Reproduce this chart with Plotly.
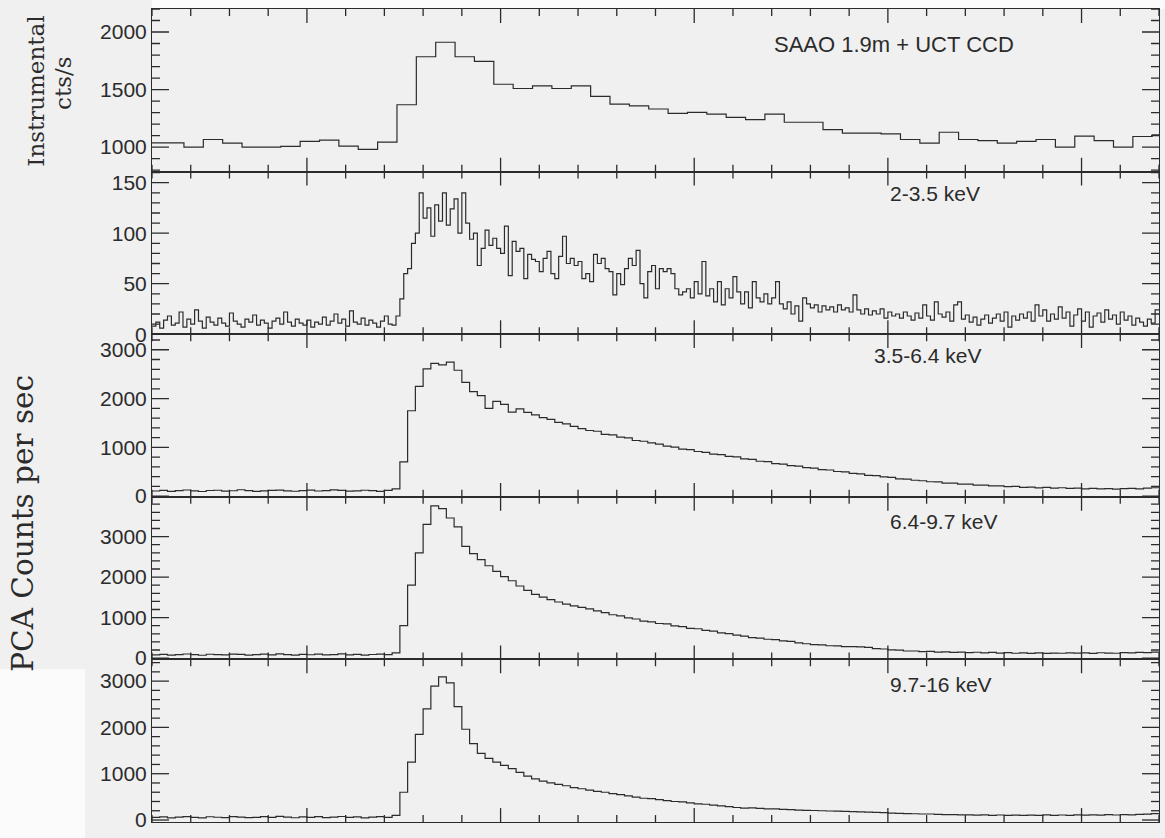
import numpy as np
import plotly.graph_objects as go
from plotly.subplots import make_subplots

# Shared time axis (s)
T_START, T_END = -80, 440

# SAAO 1.9m + UCT CCD optical count rate, 10 s bins
opt_t0, opt_dt = -83.5, 10
opt_rate = [1037, 1037, 1000, 1066, 1034, 1000, 1000, 1006, 1049, 1060,
            1009, 980, 1043, 1368, 1785, 1911, 1785, 1744, 1546, 1509,
            1532, 1509, 1532, 1440, 1374, 1359, 1331, 1293, 1302, 1287,
            1259, 1239, 1287, 1216, 1216, 1152, 1121, 1121, 1115, 1066,
            1034, 1129, 1066, 1057, 1034, 1049, 1066, 1000, 1095, 1057,
            1000, 1092, 1106]

# PCA 2-3.5 keV, 2 s bins
soft_t0, soft_dt = -80, 2
pca_2_35 = [8, 12, 6, 14, 18, 9, 11, 22, 7, 15,
            10, 24, 13, 6, 17, 12, 9, 16, 11, 8,
            21, 13, 10, 7, 15, 12, 19, 9, 14, 11,
            6, 13, 16, 10, 22, 12, 8, 15, 11, 9,
            14, 7, 12, 10, 17, 9, 13, 20, 11, 15,
            8, 23, 12, 10, 16, 9, 14, 11, 7, 13,
            18, 10,
            9, 18, 35, 60, 65, 90, 100, 140, 115, 125,
            97, 128, 112, 140, 108, 124, 134, 100, 140, 110,
            94, 100, 68, 85, 103, 88, 95, 85, 80, 107,
            58, 92, 82, 85, 55, 79, 74, 72, 62, 75,
            82, 60, 55, 77, 97, 70, 75, 68, 72, 55,
            60, 52, 79, 70, 75, 65, 62, 39, 60, 49,
            65, 75, 68, 83, 50, 36, 62, 68, 45, 65,
            62, 65, 60, 45, 39, 42, 45, 36, 52, 40,
            72, 38, 45, 32, 52, 29, 45, 36, 57, 42,
            30, 42, 26, 52, 36, 32, 40, 30, 36, 52,
            30, 25, 32, 20, 28, 13, 36, 30, 26, 29,
            22, 28, 24, 27, 22, 29, 24, 26, 22, 39,
            24, 20, 25, 19, 23, 20, 25, 16, 22, 18,
            20, 16, 22, 18, 14, 21, 16, 29, 18, 14,
            32, 20, 17, 22, 13, 29, 32, 15, 19, 12,
            17, 9, 15, 19, 11, 16, 20, 13, 22, 7,
            18, 14, 20, 16, 22, 13, 29, 18, 24, 13,
            20, 15, 27, 16, 22, 8, 19, 25, 13, 22,
            7, 18, 21, 12, 24, 15, 19, 10, 22, 14,
            18, 9, 16, 12, 8, 15, 11, 24]

# PCA harder bands, 4 s bins
hard_t0, hard_dt = -80, 4
pca_35_64 = [105, 118, 98, 112, 125, 108, 95, 115, 120, 102,
             110, 130, 112, 98, 106, 118, 124, 109, 100, 114,
             122, 105, 111, 127, 116, 102, 108, 120, 113, 99, 118,
             150, 700, 1750, 2250, 2610, 2720, 2690, 2745, 2580, 2330,
             2140, 2060, 1800, 1940, 1880, 1720, 1790, 1715, 1665, 1610,
             1575, 1510, 1480, 1430, 1385, 1345, 1330, 1265, 1255, 1210,
             1195, 1140, 1125, 1090, 1065, 1025, 1005, 965, 955, 915,
             895, 860, 850, 815, 805, 765, 755, 715, 705, 665,
             655, 625, 615, 585, 575, 545, 535, 505, 495, 465,
             455, 425, 420, 395, 385, 355, 350, 325, 315, 295,
             290, 265, 265, 245, 245, 225, 225, 210, 210, 195,
             200, 180, 185, 170, 178, 165, 172, 158, 165, 150,
             158, 148, 155, 142, 152, 160, 148, 162, 172]

pca_64_97 = [80, 92, 75, 88, 101, 84, 70, 95, 86, 78,
             99, 90, 73, 85, 96, 82, 104, 88, 76, 91,
             83, 97, 79, 87, 102, 81, 93, 74, 89, 98, 85,
             130, 800, 1800, 2600, 3300, 3760, 3690, 3460, 3240, 2760,
             2580, 2430, 2280, 2140, 2010, 1910, 1780, 1670, 1575, 1505,
             1445, 1385, 1335, 1290, 1255, 1215, 1165, 1125, 1070, 1045,
             995, 965, 915, 895, 855, 845, 795, 775, 735, 725,
             685, 665, 625, 605, 565, 545, 505, 495, 465, 455,
             425, 415, 375, 355, 335, 325, 305, 300, 285, 285,
             275, 265, 235, 225, 205, 195, 175, 175, 160, 165,
             150, 155, 140, 150, 135, 145, 130, 140, 125, 135,
             120, 130, 118, 128, 115, 125, 120, 130, 122, 128,
             118, 132, 125, 120, 135, 128, 140, 135, 150]

pca_97_16 = [55, 68, 48, 62, 75, 58, 45, 70, 60, 52,
             73, 64, 50, 59, 71, 56, 78, 62, 49, 66,
             57, 72, 53, 61, 76, 55, 67, 47, 63, 72, 58,
             100, 600, 1250, 1850, 2400, 2890, 3090, 2960, 2450, 1960,
             1650, 1440, 1330, 1250, 1180, 1110, 1030, 950, 890, 840,
             800, 770, 740, 700, 675, 645, 620, 600, 570, 550,
             520, 495, 470, 460, 440, 420, 400, 390, 370, 350,
             340, 320, 305, 290, 270, 255, 260, 250, 240, 240,
             230, 225, 215, 210, 205, 200, 195, 190, 185, 180,
             175, 170, 165, 160, 150, 145, 140, 135, 130, 130,
             120, 115, 118, 110, 112, 105, 110, 102, 108, 100,
             105, 98, 104, 100, 110, 102, 108, 100, 112, 105,
             110, 104, 115, 108, 118, 112, 120, 125, 140]

band_labels = ["SAAO 1.9m + UCT CCD", "2-3.5 keV", "3.5-6.4 keV",
               "6.4-9.7 keV", "9.7-16 keV"]
y_ranges = [[787, 2200], [0, 161], [-14, 3319], [-32, 3983], [-43, 3469]]
# labelled tick spacing and minor tick spacing per panel
y_major = [500, 50, 1000, 1000, 1000]
y_minor = [100, 10, 200, 200, 200]
T_MAJOR, T_MINOR = 100, 20

INK = "#2b2b2b"
BG = "#f0f0f0"
N = 5
W, H = 1165, 838
MARGIN = dict(l=152, r=5, t=9, b=11)
PANEL_W = W - MARGIN["l"] - MARGIN["r"]
PANEL_H = (H - MARGIN["t"] - MARGIN["b"]) / N
# inward tick lengths in pixels
X_MAJ_LEN, X_MIN_LEN, Y_MAJ_LEN, Y_MIN_LEN = 14, 7, 17, 8


def step_xy(t0, dt, vals):
    """Bin edges and values for a histogram-style ('hv') trace."""
    edges = t0 + dt * np.arange(len(vals) + 1)
    return edges, list(vals) + [vals[-1]]


def is_multiple(v, step):
    q = v / step
    return abs(q - round(q)) < 1e-6


def tick_path(i):
    """Inward tick marks on all four edges of panel i, as one broken path."""
    lo, hi = y_ranges[i - 1]
    y_per_px = (hi - lo) / PANEL_H
    t_per_px = (T_END - T_START) / PANEL_W
    xs, ys = [], []
    for t in np.arange(T_START, T_END + 1e-9, T_MINOR):
        t = float(t)
        h = (X_MAJ_LEN if is_multiple(t, T_MAJOR) else X_MIN_LEN) * y_per_px
        xs += [t, t, None, t, t, None]
        ys += [lo, lo + h, None, hi, hi - h, None]
    step = y_minor[i - 1]
    for v in np.arange(np.ceil(lo / step) * step, hi + 1e-9, step):
        v = float(v)
        w = (Y_MAJ_LEN if is_multiple(v, y_major[i - 1]) else Y_MIN_LEN) * t_per_px
        xs += [T_START, T_START + w, None, T_END, T_END - w, None]
        ys += [v, v, None, v, v, None]
    return xs, ys


series = [(opt_t0, opt_dt, opt_rate),
          (soft_t0, soft_dt, pca_2_35),
          (hard_t0, hard_dt, pca_35_64),
          (hard_t0, hard_dt, pca_64_97),
          (hard_t0, hard_dt, pca_97_16)]

fig = make_subplots(rows=N, cols=1, shared_xaxes=False, vertical_spacing=0)

for i, (t0, dt, vals) in enumerate(series, start=1):
    x, y = step_xy(t0, dt, vals)
    fig.add_trace(go.Scatter(x=x, y=y, mode="lines",
                             line=dict(shape="hv", color=INK, width=1.2),
                             showlegend=False),
                  row=i, col=1)

    tx, ty = tick_path(i)
    fig.add_trace(go.Scatter(x=tx, y=ty, mode="lines",
                             line=dict(color=INK, width=1.3),
                             connectgaps=False, showlegend=False),
                  row=i, col=1)

    fig.update_xaxes(row=i, col=1, range=[T_START, T_END], ticks="",
                     showticklabels=False, showline=True, linecolor=INK,
                     linewidth=1, mirror=True, showgrid=False,
                     zeroline=False)
    lo, hi = y_ranges[i - 1]
    tv = [v for v in range(0, int(hi) + 1, y_major[i - 1]) if v >= lo]
    fig.update_yaxes(row=i, col=1, range=y_ranges[i - 1], ticks="",
                     tickvals=tv,
                     tickfont=dict(family="Liberation Sans, Arial", size=21,
                                   color=INK),
                     showline=True, linecolor=INK, linewidth=1, mirror=True,
                     showgrid=False, zeroline=False)

# band labels inside each panel
label_pos = [(240, 0.78), (300, 0.865), (292, 0.872), (300, 0.847), (300, 0.848)]
for i, (text, (lx, ly)) in enumerate(zip(band_labels, label_pos), start=1):
    sx = "" if i == 1 else str(i)
    fig.add_annotation(text=text, x=lx, y=ly, xref="x" + sx,
                       yref=f"y{sx} domain",
                       xanchor="left", yanchor="middle", showarrow=False,
                       font=dict(family="Liberation Sans, Arial",
                                 size=22 if i == 1 else 21, color=INK))

serif = "DejaVu Serif, Liberation Serif, serif"
fig.add_annotation(text="Instrumental", x=-0.116, y=0.8985, xref="paper",
                   yref="paper", textangle=-90, showarrow=False,
                   xanchor="center", yanchor="middle",
                   font=dict(family=serif, size=23, color=INK))
fig.add_annotation(text="cts/s", x=-0.0883, y=0.908, xref="paper",
                   yref="paper", textangle=-90, showarrow=False,
                   xanchor="center", yanchor="middle",
                   font=dict(family=serif, size=23, color=INK))
fig.add_annotation(text="PCA Counts per sec", x=-0.128, y=0.367,
                   xref="paper", yref="paper", textangle=-90,
                   showarrow=False, xanchor="center", yanchor="middle",
                   font=dict(family=serif, size=29.5, color=INK))

# lighter paper along the top edge and in the bottom-left corner
fig.add_shape(type="rect", xref="paper", yref="paper", x0=0, x1=1.01,
              y0=1.0, y1=1.02, fillcolor="#fbfbfb", line_width=0,
              layer="below")
fig.add_shape(type="rect", xref="paper", yref="paper", x0=-0.16,
              x1=-0.0665, y0=-0.02, y1=0.188, fillcolor="#fbfbfb",
              line_width=0, layer="below")

fig.update_layout(width=W, height=H, margin=MARGIN,
                  paper_bgcolor=BG, plot_bgcolor=BG)

fig.write_html("out.html")
